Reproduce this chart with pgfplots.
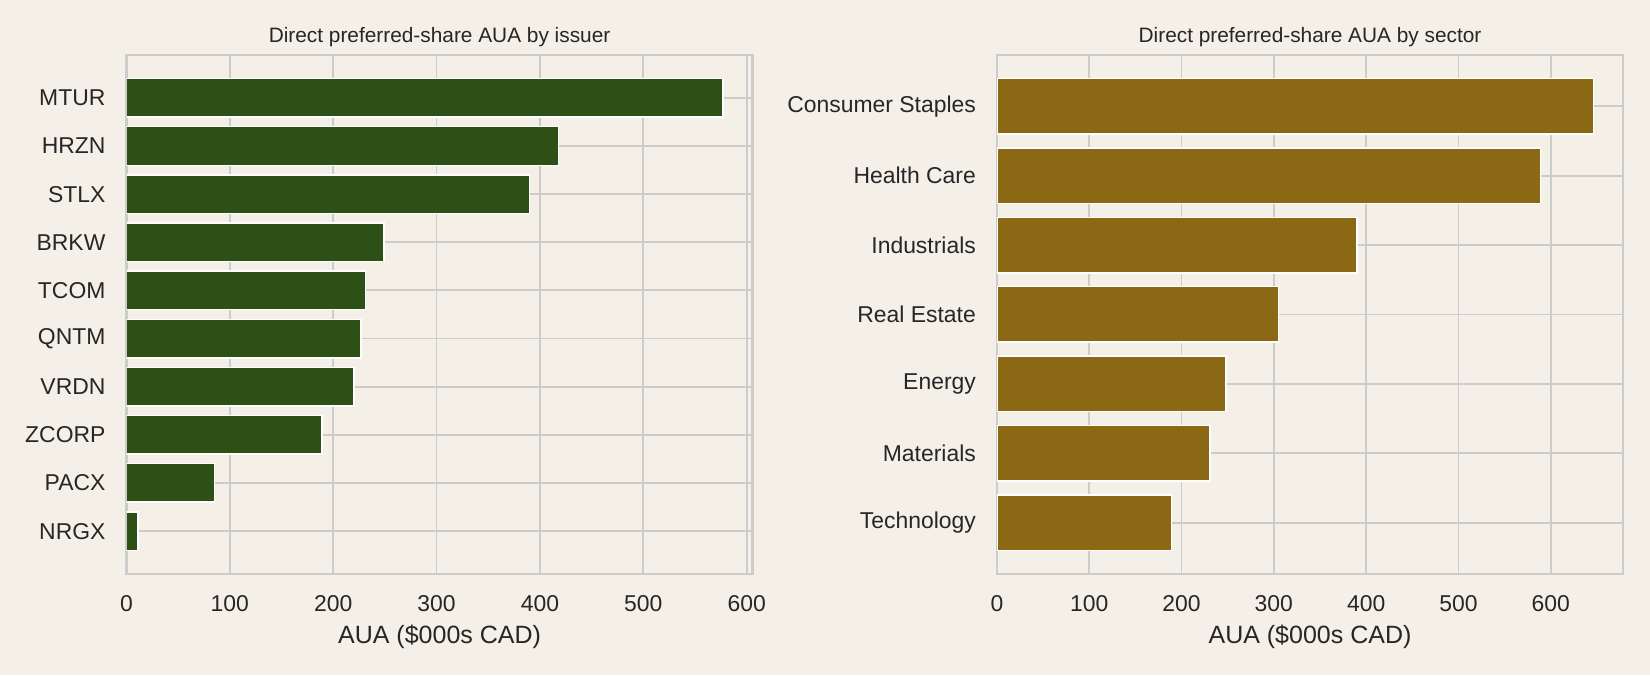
\documentclass[border=0pt]{standalone}
\usepackage{pgfplots}
\pgfplotsset{compat=1.18}
\usepackage{fontspec}
\setmainfont{Liberation Sans}

\definecolor{bgcol}{HTML}{F4F0E8}
\definecolor{gridcol}{HTML}{CCCCCC}
\definecolor{txtcol}{HTML}{262626}
\definecolor{issuercol}{HTML}{2D5016}
\definecolor{sectorcol}{HTML}{8B6914}

\pgfplotsset{
  every axis title shift=0pt,
  panel/.style={
    scale only axis,
    width=300.6pt, height=249.1pt,
    anchor=south west,
    xbar, bar shift=0pt, bar width=0.8,
    xmin=0,
    xtick={0,100,...,600},
    axis background/.style={fill=bgcol},
    grid=major,
    major grid style={draw=gridcol, line width=0.9pt},
    axis line style={draw=gridcol, line width=1.2pt},
    major tick length=0pt,
    /pgf/number format/assume math mode=true,
    tick label style={font=\fontsize{11}{13}\selectfont, text=txtcol},
    xticklabel style={anchor=base, inner sep=0pt, yshift=-17.9pt},
    yticklabel style={anchor=east, inner sep=0pt, xshift=-9.9pt},
    title style={at={(0.5,1)}, anchor=base, inner sep=0pt, yshift=5.9pt,
                 font=\fontsize{10}{12}\selectfont, text=txtcol},
    xlabel style={at={(axis description cs:0.5,0)}, anchor=base, yshift=-33.5pt,
                  font=\fontsize{12}{14}\selectfont, text=txtcol},
    xlabel={AUA (\$000s CAD)},
  },
}

\begin{document}
\begin{tikzpicture}
\fill[bgcol] (0,0) rectangle (792pt,324pt);

% AUA by issuer
\begin{axis}[panel,
  at={(60.7pt,48.5pt)},
  xmax=605.85,
  ymin=-0.89, ymax=9.89,
  ytick={0,...,9},
  yticklabels={NRGX,PACX,ZCORP,VRDN,QNTM,TCOM,BRKW,STLX,HRZN,MTUR},
  title={Direct preferred-share AUA by issuer},
]
\addplot[fill=issuercol, draw=white, line width=0.7pt] coordinates {
  (11,0) (85,1) (189,2) (220,3) (227,4) (231,5) (249,6) (390,7) (418,8) (577,9)
};
\end{axis}

% AUA by sector
\begin{axis}[panel,
  at={(478.5pt,48.5pt)},
  xmax=678.3,
  ymin=-0.74, ymax=6.74,
  ytick={0,...,6},
  yticklabels={Technology,Materials,Energy,Real Estate,Industrials,Health Care,Consumer Staples},
  title={Direct preferred-share AUA by sector},
]
\addplot[fill=sectorcol, draw=white, line width=0.7pt] coordinates {
  (189,0) (231,1) (248,2) (305,3) (390,4) (589,5) (646,6)
};
\end{axis}

\pgfresetboundingbox
\path[use as bounding box] (0,0) rectangle (792pt,324pt);
\end{tikzpicture}
\end{document}
